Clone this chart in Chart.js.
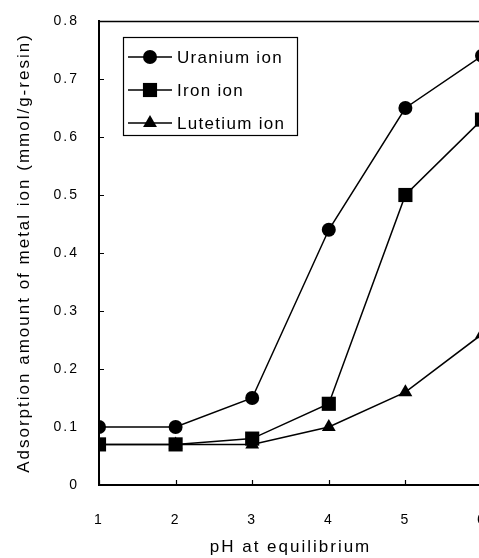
<!DOCTYPE html>
<html>
<head>
<meta charset="utf-8">
<script src="https://cdn.jsdelivr.net/npm/chart.js@4/dist/chart.umd.min.js"></script>
<style>
  html, body { margin: 0; padding: 0; background: #fff; overflow: hidden; }
  #wrap { width: 500px; height: 558px; position: relative; }
</style>
</head>
<body>
<div id="wrap"><canvas id="chart"></canvas></div>
<script>
'use strict';

// data
var ph = [1, 2, 3, 4, 5, 6]
var uranium = [0.10, 0.10, 0.15, 0.44, 0.65, 0.74]
var iron = [0.07, 0.07, 0.08, 0.14, 0.50, 0.63]
var lutetium = [0.07, 0.07, 0.07, 0.10, 0.16, 0.26]
var seriesNames = ['Uranium ion', 'Iron ion', 'Lutetium ion']
var yTicks = [0, 0.1, 0.2, 0.3, 0.4, 0.5, 0.6, 0.7, 0.8]

var spacing = '2px'
var legendSpacing = '1.3px'
var fontFamily = '"Liberation Sans", Arial, sans-serif'

Chart.defaults.font.family = fontFamily
Chart.defaults.font.size = 17
Chart.defaults.color = '#000'

function points(values) {
    return ph.map(function (p, i) { return { x: p, y: values[i] } })
}

function makeSet(name, values, style, radius) {
    return {
        label: name,
        data: points(values),
        borderColor: '#000',
        backgroundColor: '#000',
        borderWidth: 1.5,
        pointStyle: style,
        pointRadius: radius,
        pointHoverRadius: radius,
        pointBorderWidth: 0,
        tension: 0
    }
}

// letter spacing for the wide looking original font
var spacingPlugin = {
    id: 'spacing',
    beforeUpdate: function (chart) { chart.ctx.letterSpacing = spacing },
    beforeLayout: function (chart) { chart.ctx.letterSpacing = spacing },
    beforeDraw: function (chart) { chart.ctx.letterSpacing = spacing }
}

// frame, inner ticks and boxed legend
var framePlugin = {
    id: 'frame',
    afterDraw: function (chart) {
        var ctx = chart.ctx
        var a = chart.chartArea
        var xs = chart.scales.x
        var ys = chart.scales.y
        ctx.save()
        ctx.strokeStyle = '#000'
        ctx.lineWidth = 1.5
        ctx.beginPath()
        ctx.moveTo(a.left, a.top + 0.5)
        ctx.lineTo(a.right, a.top + 0.5)
        ctx.lineTo(a.right, a.bottom)
        ctx.stroke()

        ctx.lineWidth = 1.2
        ctx.beginPath()
        ph.forEach(function (p) {
            var px = Math.round(xs.getPixelForValue(p)) + 0.5
            ctx.moveTo(px, a.bottom)
            ctx.lineTo(px, a.bottom - 5)
        })
        yTicks.forEach(function (v) {
            var py = Math.round(ys.getPixelForValue(v)) + 0.5
            ctx.moveTo(a.left, py)
            ctx.lineTo(a.left + 5, py)
        })
        ctx.stroke()

        // legend box
        var bx = a.left + 24, by = a.top + 16, bw = 174, bh = 98
        ctx.lineWidth = 1.2
        ctx.strokeRect(bx + 0.5, by + 0.5, bw, bh)
        ctx.letterSpacing = legendSpacing
        ctx.font = '17px ' + fontFamily
        ctx.textBaseline = 'middle'
        ctx.fillStyle = '#000'
        chart.data.datasets.forEach(function (ds, i) {
            var ry = by + 20 + i * 33
            ctx.lineWidth = 1.5
            ctx.beginPath()
            ctx.moveTo(bx + 5, ry)
            ctx.lineTo(bx + 49, ry)
            ctx.stroke()
            Chart.helpers.drawPoint(ctx, {
                pointStyle: ds.pointStyle,
                radius: ds.pointRadius,
                rotation: 0,
                borderWidth: 0
            }, bx + 27, ry)
            ctx.fillText(ds.label, bx + 54, ry + 1)
        })
        ctx.restore()
    }
}

var config = {
    type: 'line',
    data: {
        datasets: [
            makeSet(seriesNames[0], uranium, 'circle', 7),
            makeSet(seriesNames[1], iron, 'rect', 10),
            makeSet(seriesNames[2], lutetium, 'triangle', 8)
        ]
    },
    options: {
        responsive: true,
        maintainAspectRatio: false,
        animation: false,
        events: [],
        layout: { padding: { top: 21, right: 18, left: 0, bottom: 0 } },
        plugins: {
            legend: { display: false },
            tooltip: { enabled: false }
        },
        scales: {
            x: {
                type: 'linear',
                min: 1,
                max: 6,
                grid: { display: false, drawTicks: false },
                border: { display: true, color: '#000', width: 2 },
                ticks: { stepSize: 1, padding: 27, color: '#000', font: { size: 14 } },
                title: {
                    display: true,
                    text: 'pH at equilibrium',
                    color: '#000',
                    padding: { top: 0, bottom: 0 }
                },
                afterFit: function (scale) {
                    scale.height = 73
                    scale.paddingLeft = 0
                    scale.paddingRight = 0
                }
            },
            y: {
                min: 0,
                max: 0.8,
                grid: { display: false, drawTicks: false },
                border: { display: true, color: '#000', width: 2 },
                ticks: {
                    stepSize: 0.1,
                    padding: 20,
                    color: '#000',
                    font: { size: 14 },
                    callback: function (v) { return v === 0 ? '0' : v.toFixed(1) }
                },
                title: {
                    display: true,
                    text: 'Adsorption amount of metal ion (mmol/g-resin)',
                    color: '#000',
                    padding: { top: 14, bottom: 0 }
                },
                afterFit: function (scale) {
                    scale.width = 99
                    scale.paddingTop = 0
                    scale.paddingBottom = 0
                }
            }
        }
    },
    plugins: [spacingPlugin, framePlugin]
}

var chart = new Chart(document.getElementById('chart'), config)
</script>
</body>
</html>
